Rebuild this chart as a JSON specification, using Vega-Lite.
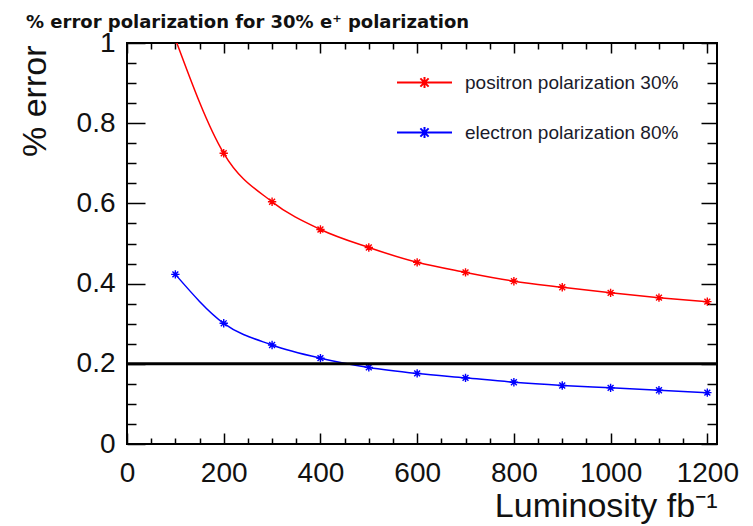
{
  "$schema": "https://vega.github.io/schema/vega-lite/v6.json",
  "width": 590,
  "height": 401,
  "autosize": "none",
  "padding": {"left": 127, "top": 43, "right": 36, "bottom": 82},
  "background": "white",
  "title": {
    "text": "% error polarization for 30% e⁺ polarization",
    "anchor": "start",
    "frame": "group",
    "dx": -101,
    "fontSize": 18,
    "fontWeight": "bold",
    "font": "DejaVu Sans",
    "color": "#111111",
    "baseline": "alphabetic",
    "offset": -17
  },
  "data": {
    "values": [
      {"series": "positron polarization 30%", "lumi": 100, "err": 1.01},
      {"series": "positron polarization 30%", "lumi": 200, "err": 0.725},
      {"series": "positron polarization 30%", "lumi": 300, "err": 0.604},
      {"series": "positron polarization 30%", "lumi": 400, "err": 0.535},
      {"series": "positron polarization 30%", "lumi": 500, "err": 0.49},
      {"series": "positron polarization 30%", "lumi": 600, "err": 0.453},
      {"series": "positron polarization 30%", "lumi": 700, "err": 0.428},
      {"series": "positron polarization 30%", "lumi": 800, "err": 0.406},
      {"series": "positron polarization 30%", "lumi": 900, "err": 0.391},
      {"series": "positron polarization 30%", "lumi": 1000, "err": 0.377},
      {"series": "positron polarization 30%", "lumi": 1100, "err": 0.365},
      {"series": "positron polarization 30%", "lumi": 1200, "err": 0.355},
      {"series": "electron polarization 80%", "lumi": 100, "err": 0.423},
      {"series": "electron polarization 80%", "lumi": 200, "err": 0.301},
      {"series": "electron polarization 80%", "lumi": 300, "err": 0.247},
      {"series": "electron polarization 80%", "lumi": 400, "err": 0.214},
      {"series": "electron polarization 80%", "lumi": 500, "err": 0.191},
      {"series": "electron polarization 80%", "lumi": 600, "err": 0.176},
      {"series": "electron polarization 80%", "lumi": 700, "err": 0.165},
      {"series": "electron polarization 80%", "lumi": 800, "err": 0.154},
      {"series": "electron polarization 80%", "lumi": 900, "err": 0.146},
      {"series": "electron polarization 80%", "lumi": 1000, "err": 0.14},
      {"series": "electron polarization 80%", "lumi": 1100, "err": 0.134},
      {"series": "electron polarization 80%", "lumi": 1200, "err": 0.128}
    ]
  },
  "layer": [
    {
      "mark": {"type": "line", "interpolate": "monotone", "strokeWidth": 1.5, "clip": true},
      "encoding": {
        "x": {
          "field": "lumi", "type": "quantitative",
          "scale": {"domain": [0, 1220], "nice": false, "zero": false},
          "axis": {
            "orient": "bottom",
            "values": [0,50,100,150,200,250,300,350,400,450,500,550,600,650,700,750,800,850,900,950,1000,1050,1100,1150,1200],
            "labelExpr": "datum.value % 200 == 0 ? '' + datum.value : ''",
            "tickSize": {"condition": {"test": "datum.value % 200 == 0", "value": -11}, "value": -6},
            "labelPadding": 26,
            "title": "Luminosity fb⁻¹",
            "titleAnchor": "end",
            "titleAlign": "right",
            "titleX": 590,
            "titleY": 72,
            "titleBaseline": "alphabetic",
            "titleFontSize": 34
          }
        },
        "y": {
          "field": "err", "type": "quantitative",
          "scale": {"domain": [0, 1], "nice": false, "zero": false},
          "axis": {
            "orient": "left",
            "values": [0,0.05,0.1,0.15,0.2,0.25,0.3,0.35,0.4,0.45,0.5,0.55,0.6,0.65,0.7,0.75,0.8,0.85,0.9,0.95,1],
            "labelExpr": "abs(datum.value*5 - round(datum.value*5)) < 0.001 ? (datum.value == 0 ? '0' : datum.value == 1 ? '1' : format(datum.value, '.1f')) : ''",
            "tickSize": {"condition": {"test": "abs(datum.value*5 - round(datum.value*5)) < 0.001", "value": -18}, "value": -9},
            "labelPadding": 30,
            "title": "% error",
            "titleAngle": -90,
            "titleAlign": "right",
            "titleBaseline": "middle",
            "titleX": -92,
            "titleY": 2,
            "titleFontSize": 34
          }
        },
        "color": {
          "field": "series", "type": "nominal",
          "scale": {"domain": ["positron polarization 30%", "electron polarization 80%"], "range": ["#ff0000", "#0000ff"]},
          "legend": {
            "orient": "none",
            "legendX": 269,
            "legendY": 11,
            "title": null,
            "symbolType": "M-1,0L1,0M-0.15,-0.15L0.15,0.15M-0.15,0.15L0.15,-0.15M0,-0.2L0,0.2",
            "symbolSize": 3025,
            "symbolStrokeWidth": 2,
            "labelFontSize": 19,
            "labelLimit": 400,
            "labelOffset": 12,
            "labelColor": "#1a1a2a",
            "labelFont": "Liberation Sans",
            "rowPadding": 11
          }
        }
      }
    },
    {
      "mark": {"type": "point", "shape": "M-1,0L1,0M0,-1L0,1M-0.7,-0.7L0.7,0.7M-0.7,0.7L0.7,-0.7", "filled": false, "size": 70, "strokeWidth": 1.4, "opacity": 1, "clip": true},
      "encoding": {
        "x": {
          "field": "lumi", "type": "quantitative",
          "scale": {"domain": [0, 1220], "nice": false, "zero": false},
          "axis": {
            "orient": "top",
            "values": [0,50,100,150,200,250,300,350,400,450,500,550,600,650,700,750,800,850,900,950,1000,1050,1100,1150,1200],
            "labels": false,
            "title": null,
            "tickSize": {"condition": {"test": "datum.value % 200 == 0", "value": -10}, "value": -6}
          }
        },
        "y": {
          "field": "err", "type": "quantitative",
          "scale": {"domain": [0, 1], "nice": false, "zero": false},
          "axis": {
            "orient": "right",
            "values": [0,0.05,0.1,0.15,0.2,0.25,0.3,0.35,0.4,0.45,0.5,0.55,0.6,0.65,0.7,0.75,0.8,0.85,0.9,0.95,1],
            "labels": false,
            "title": null,
            "tickSize": {"condition": {"test": "abs(datum.value*5 - round(datum.value*5)) < 0.001", "value": -16}, "value": -10}
          }
        },
        "color": {"field": "series", "type": "nominal", "legend": null}
      }
    },
    {
      "data": {"values": [{"level": 0.2}]},
      "mark": {"type": "rule", "color": "black", "strokeWidth": 3},
      "encoding": {
        "y": {"field": "level", "type": "quantitative", "axis": null}
      }
    }
  ],
  "resolve": {"axis": {"x": "independent", "y": "independent"}},
  "config": {
    "font": "Liberation Sans",
    "view": {"stroke": "black", "strokeWidth": 2},
    "axis": {
      "domain": false,
      "grid": false,
      "tickColor": "black",
      "tickWidth": 1.5,
      "labelFontSize": 28,
      "labelColor": "#111111",
      "labelFont": "Liberation Sans",
      "labelFlush": false,
      "labelOverlap": false,
      "titleColor": "#111111",
      "titleFont": "Liberation Sans",
      "titleFontWeight": "normal"
    }
  }
}
